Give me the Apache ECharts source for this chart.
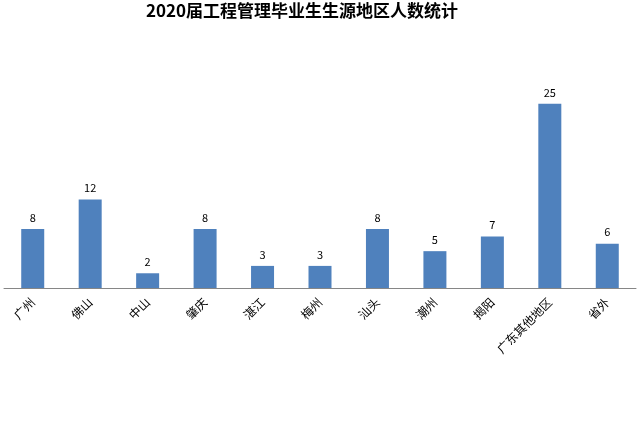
<!DOCTYPE html>
<html><head><meta charset="utf-8">
<script src="https://cdn.jsdelivr.net/npm/echarts@6/dist/echarts.min.js"></script>
<style>html,body{margin:0;padding:0;background:#fff}#c{width:638px;height:444px}</style>
</head><body><div id="c"></div>
<script>
var categories = ['广州','佛山','中山','肇庆','湛江','梅州','汕头','潮州','揭阳','广东其他地区','省外'];
var values = [8,12,2,8,3,3,8,5,7,25,6];
var titleText = '2020届工程管理毕业生生源地区人数统计';
var chart = echarts.init(document.getElementById('c'));
chart.setOption({
  animation:false,
  title:{text:titleText,left:141,top:-3,textStyle:{fontFamily:'"Noto Sans CJK SC"',fontSize:17,fontWeight:'bold',color:'#000'}},
  grid:{left:4,right:2,top:67,bottom:156,containLabel:false},
  xAxis:{type:'category',data:categories,
    axisLine:{lineStyle:{color:'#868686',width:1}},
    axisTick:{show:false},
    axisLabel:{rotate:45,interval:0,color:'#000',fontSize:12,fontFamily:'"Noto Sans CJK SC"',margin:12}},
  yAxis:{type:'value',min:0,max:30,show:false,splitLine:{show:false}},
  series:[{type:'bar',data:values,barWidth:23,itemStyle:{color:'#4F81BD'},
    label:{show:true,position:'top',color:'#000',fontSize:11,fontFamily:'"Noto Sans CJK SC"',distance:6}}]
});
</script></body></html>
